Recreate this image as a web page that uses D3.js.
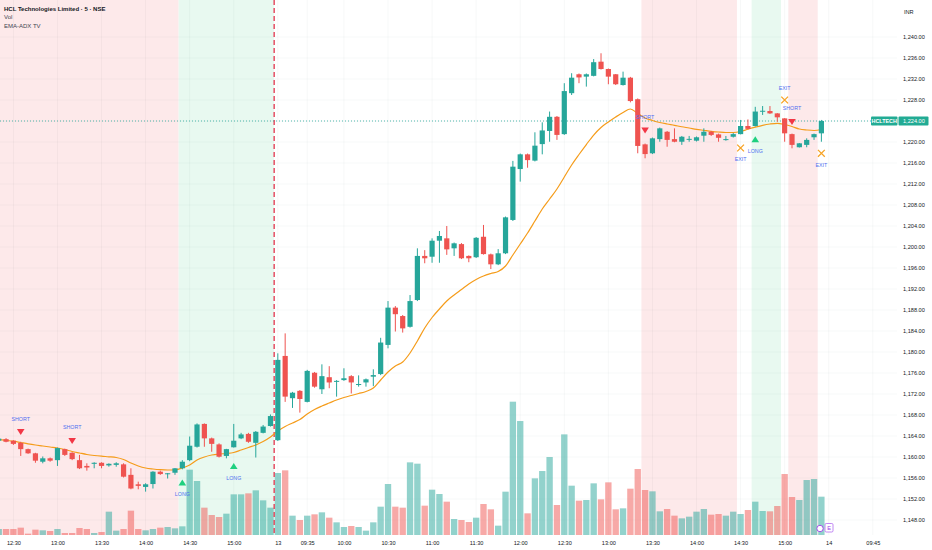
<!DOCTYPE html>
<html>
<head>
<meta charset="utf-8">
<script src="https://cdn.jsdelivr.net/npm/d3@7/dist/d3.min.js"></script>
<style>
	body { margin: 0; background: #fff; }
	svg { display: block; font-family: "Liberation Sans", Arial, sans-serif; }
	.axis path, .axis line { display: none; }
	.axis text { fill: #131722; }
</style>
</head>
<body>
<svg id="chart" width="932" height="550"></svg>
<script>
// bars 0-37 = day 12 (12:20 - 15:25), bars 38-112 = day 13 (09:15 - 15:25), 5 min each
const opens = [
	1163.1, 1163.4, 1163.1, 1162.7, 1161.5, 1160.7, 1159.1, 1159.75, 1159.4, 1161.5,
	1160.8, 1159.4, 1158.3, 1158.7, 1158.9, 1158.4, 1158.5, 1158.6, 1156.6, 1154.8,
	1154.3, 1154.85, 1157.2, 1156.75, 1157.0, 1157.85, 1159.4, 1161.95, 1166.3, 1163.55,
	1162.4, 1160.2, 1161.85, 1163.55, 1164.4, 1162.7, 1164.6, 1165.9,
	1163.2, 1179.25, 1171.2, 1172.6, 1170.5, 1176.05, 1172.9, 1175.2, 1174.4, 1174.65,
	1175.4, 1173.8, 1174.2, 1175.3, 1175.8, 1181.35, 1188.45, 1186.85, 1184.8, 1189.9,
	1198.3, 1198.15, 1201.2, 1201.65, 1199.75, 1200.55, 1198.3, 1198.05, 1201.95, 1198.6,
	1196.7, 1198.8, 1205.15, 1214.85, 1217.65, 1216.45, 1219.6, 1222.1, 1224.8, 1221.5,
	1229.3, 1232.9, 1232.45, 1232.6, 1235.3, 1233.9, 1232.9, 1230.85, 1232.25, 1228.15,
	1219.55, 1217.85, 1220.55, 1221.95, 1220.55, 1220.05, 1220.5, 1220.25, 1221.2, 1221.95,
	1221.45, 1220.45, 1221.0, 1221.5, 1223.05, 1223.05, 1225.85, 1225.9, 1225.45, 1224.5,
	1221.5, 1219.0, 1219.45, 1220.9, 1221.65
];
const highs = [
	1163.8, 1163.6, 1163.2, 1162.9, 1161.6, 1160.8, 1160.1, 1159.9, 1161.8, 1161.6,
	1160.9, 1160.4, 1158.8, 1159.0, 1159.0, 1158.8, 1159.0, 1158.8, 1157.85, 1155.3,
	1155.0, 1157.3, 1157.4, 1156.95, 1157.9, 1159.4, 1163.9, 1166.4, 1166.4, 1163.7,
	1162.6, 1161.55, 1166.3, 1164.6, 1164.6, 1164.95, 1166.1, 1168.1,
	1179.75, 1183.55, 1172.4, 1172.75, 1176.6, 1176.2, 1177.65, 1177.3, 1174.65, 1176.9,
	1175.6, 1175.55, 1174.95, 1176.7, 1182.7, 1189.7, 1188.75, 1187.05, 1190.85, 1199.75,
	1199.4, 1201.65, 1203.05, 1204.0, 1200.85, 1200.75, 1198.4, 1201.9, 1204.2, 1198.75,
	1199.6, 1205.8, 1216.4, 1217.8, 1217.8, 1221.85, 1223.75, 1225.8, 1224.95, 1231.2,
	1233.1, 1233.05, 1233.05, 1235.8, 1236.9, 1234.0, 1232.95, 1233.4, 1232.4, 1228.3,
	1219.7, 1220.85, 1222.75, 1222.1, 1222.6, 1221.15, 1221.15, 1221.05, 1222.6, 1222.1,
	1221.6, 1221.15, 1221.7, 1224.2, 1224.3, 1226.7, 1226.85, 1226.85, 1225.5, 1224.55,
	1221.6, 1219.8, 1220.7, 1221.6, 1224.2
];
const lows = [
	1162.9, 1162.8, 1162.3, 1160.2, 1160.6, 1158.9, 1158.8, 1159.1, 1158.3, 1160.2,
	1159.4, 1157.7, 1157.4, 1157.85, 1157.85, 1158.15, 1158.15, 1156.1, 1153.85, 1153.85,
	1153.4, 1154.0, 1156.6, 1155.9, 1156.6, 1157.65, 1159.2, 1161.8, 1161.95, 1161.0,
	1159.9, 1159.75, 1161.8, 1163.4, 1162.7, 1159.9, 1164.5, 1165.8,
	1163.05, 1170.5, 1169.35, 1168.45, 1170.4, 1173.2, 1172.0, 1173.1, 1171.5, 1174.5,
	1172.1, 1173.4, 1173.4, 1173.5, 1175.6, 1180.7, 1183.9, 1183.7, 1184.65, 1189.7,
	1196.9, 1197.0, 1197.0, 1198.5, 1198.3, 1197.7, 1197.1, 1197.9, 1198.55, 1195.8,
	1196.55, 1198.65, 1204.95, 1212.45, 1215.1, 1216.3, 1217.65, 1220.05, 1220.4, 1221.35,
	1228.95, 1231.2, 1230.55, 1232.5, 1233.8, 1231.0, 1230.85, 1230.75, 1227.55, 1217.85,
	1216.9, 1217.7, 1220.05, 1219.1, 1219.95, 1219.45, 1220.05, 1220.1, 1220.05, 1221.15,
	1220.05, 1220.25, 1220.85, 1221.45, 1222.4, 1222.95, 1225.15, 1225.35, 1223.85, 1220.05,
	1218.8, 1218.95, 1219.0, 1220.4, 1220.05
];
const closes = [
	1163.5, 1162.9, 1162.5, 1161.5, 1160.7, 1159.3, 1159.75, 1159.3, 1161.7, 1160.4,
	1159.6, 1157.85, 1158.0, 1158.9, 1158.3, 1158.7, 1158.8, 1156.25, 1154.0, 1154.5,
	1154.8, 1157.2, 1156.75, 1156.9, 1157.85, 1159.1, 1162.15, 1166.2, 1163.55, 1162.5,
	1160.05, 1161.5, 1163.1, 1164.3, 1162.9, 1164.8, 1165.8, 1167.8,
	1178.5, 1171.5, 1172.25, 1171.05, 1176.4, 1173.4, 1175.4, 1174.2, 1174.5, 1175.0,
	1174.2, 1173.9, 1174.8, 1175.6, 1181.8, 1188.45, 1187.2, 1184.5, 1189.7, 1198.3,
	1197.85, 1201.2, 1202.1, 1199.55, 1200.7, 1197.85, 1197.85, 1201.75, 1198.65, 1196.7,
	1198.8, 1205.65, 1215.3, 1217.65, 1216.55, 1219.3, 1222.2, 1224.8, 1221.35, 1229.7,
	1232.25, 1232.3, 1232.9, 1235.2, 1233.9, 1232.45, 1231.0, 1232.25, 1227.8, 1219.25,
	1217.7, 1220.7, 1222.6, 1220.4, 1220.05, 1221.0, 1220.6, 1220.9, 1221.95, 1221.35,
	1220.8, 1220.55, 1221.5, 1223.05, 1222.5, 1225.8, 1225.95, 1225.45, 1224.7, 1221.65,
	1219.45, 1219.75, 1220.4, 1221.5, 1224.0
];
// volume, thousands of shares
const volumes = [
	9, 9, 9, 11, 2, 8, 7, 6, 9, 3,
	3, 10.5, 9, 3, 4.5, 35, 6.5, 9, 36.5, 9,
	7, 9, 11, 12, 10, 13, 98, 81, 41, 30,
	27, 32, 61, 61, 62.5, 67, 52, 41,
	93, 97, 29, 22.5, 29, 31, 34, 26, 19, 12,
	13.5, 12, 6.5, 19, 42.5, 76.5, 42.5, 41, 109, 107,
	44, 68, 61.5, 50, 24, 22.5, 19.5, 26, 46.5, 38.5,
	14, 65, 200, 171, 32.5, 85, 96, 117, 45, 151,
	74, 51.5, 52.5, 77.5, 53.5, 79, 38.5, 40, 69.5, 99,
	67.5, 65.5, 35.5, 39, 29, 25, 27.5, 35, 39, 30.5,
	31.5, 29, 35, 31.5, 37.5, 50, 36, 35.5, 43.5, 91.5,
	57, 52.5, 82.5, 84, 57.5
];
// EMA
const emaValues = [
	1163.33, 1163.18, 1163.01, 1162.76, 1162.51, 1162.29, 1162.10, 1161.90, 1161.71, 1161.43,
	1161.05, 1160.76, 1160.48, 1160.29, 1160.15, 1160.04, 1159.90, 1159.52, 1158.86, 1158.29,
	1157.90, 1157.71, 1157.58, 1157.52, 1157.56, 1157.90, 1158.48, 1159.43, 1160.00, 1160.38,
	1160.57, 1160.67, 1160.86, 1161.33, 1161.81, 1162.29, 1162.95, 1163.81,
	1164.95, 1165.81, 1166.48, 1167.14, 1168.19, 1169.05, 1169.71, 1170.29, 1170.86, 1171.33,
	1171.71, 1172.10, 1172.48, 1173.14, 1174.67, 1176.19, 1177.33, 1178.10, 1179.81, 1182.10,
	1184.57, 1186.57, 1188.19, 1189.71, 1190.86, 1191.90, 1192.95, 1193.81, 1194.48, 1194.95,
	1195.33, 1196.38, 1198.48, 1200.57, 1202.67, 1204.95, 1207.24, 1209.14, 1211.05, 1213.33,
	1215.62, 1217.62, 1219.52, 1221.33, 1222.76, 1223.81, 1224.76, 1225.62, 1226.29, 1225.43,
	1224.57, 1224.10, 1223.71, 1223.43, 1223.18, 1222.90, 1222.67, 1222.42, 1222.23, 1222.04,
	1221.90, 1221.81, 1221.81, 1222.00, 1222.42, 1222.82, 1223.18, 1223.43, 1223.56, 1223.33,
	1222.95, 1222.48, 1222.29, 1222.19, 1222.38
];
// background state: [first bar, last bar, side]
const zones = [[0, 24, 'short'], [25, 37, 'long'], [88, 100, 'short'], [103, 106, 'long'], [108, 111, 'short']];
// signals: [bar, price of marker]
const shortSignals = [[3, 1164.76], [10, 1163.05], [88, 1222.19], [108, 1223.81]];
const longSignals = [[25, 1155.14], [32, 1158.29], [103, 1220.51]];
const exitSignals = [[101, 1218.86, 'below'], [107, 1228.0, 'above'], [112, 1217.85, 'below']];
const timeTicks = [
	[2, '12:30'], [8, '13:00'], [14, '13:30'], [20, '14:00'], [26, '14:30'], [32, '15:00'], [38, '13'],
	[42, '09:35'], [47, '10:00'], [53, '10:30'], [59, '11:00'], [65, '11:30'], [71, '12:00'], [77, '12:30'],
	[83, '13:00'], [89, '13:30'], [95, '14:00'], [101, '14:30'], [107, '15:00'], [113, '14'], [119, '09:45']
];
const priceTicks = d3.range(1148, 1241, 4);
const dayBreak = 38;
const lastPrice = 1224.00;

const w = 932;
const h = 550;
const plotRight = 897;
const plotBottom = 535;

const svg = d3.select('#chart');

const xScale = d3.scaleLinear().domain([0, 119]).range([-1.3, 872.8]);
const yScale = d3.scaleLinear().domain([1148, 1240]).range([520, 37]);
const volScale = d3.scaleLinear().domain([0, 200]).range([plotBottom, 401.7]);
const step = xScale(1) - xScale(0);

const upColor = '#26a69a';
const downColor = '#ef5350';

svg.append('defs')
	.append('clipPath')
	.attr('id', 'plot-clip')
	.append('rect')
	.attr('x', 0)
	.attr('y', 0)
	.attr('width', plotRight)
	.attr('height', plotBottom);

const plot = svg.append('g').attr('clip-path', 'url(#plot-clip)');

// zone shading
plot.selectAll('rect.zone')
	.data(zones)
	.enter()
	.append('rect')
	.attr('class', 'zone')
	.attr('x', d => xScale(d[0]) - step / 2)
	.attr('y', 0)
	.attr('width', d => xScale(d[1]) - xScale(d[0]) + step)
	.attr('height', plotBottom)
	.attr('fill', d => d[2] == 'short' ? '#fde9ea' : '#e8f9f0');

// grid
plot.selectAll('line.hgrid')
	.data(priceTicks)
	.enter()
	.append('line')
	.attr('x1', 0)
	.attr('x2', plotRight)
	.attr('y1', d => yScale(d))
	.attr('y2', d => yScale(d))
	.attr('stroke', '#2a2e39')
	.attr('stroke-opacity', 0.035);

plot.selectAll('line.vgrid')
	.data(timeTicks)
	.enter()
	.append('line')
	.attr('x1', d => xScale(d[0]))
	.attr('x2', d => xScale(d[0]))
	.attr('y1', 0)
	.attr('y2', plotBottom)
	.attr('stroke', '#2a2e39')
	.attr('stroke-opacity', 0.035);

// volume
plot.selectAll('rect.vol')
	.data(volumes)
	.enter()
	.append('rect')
	.attr('x', (d, i) => xScale(i) - (step - 1) / 2)
	.attr('y', d => volScale(d))
	.attr('width', step - 1)
	.attr('height', d => plotBottom - volScale(d))
	.attr('fill', (d, i) => closes[i] >= opens[i] ? upColor : downColor)
	.attr('fill-opacity', 0.5);

// session break
const breakX = (xScale(dayBreak - 1) + xScale(dayBreak)) / 2;
plot.append('line')
	.attr('x1', breakX)
	.attr('x2', breakX)
	.attr('y1', 0)
	.attr('y2', plotBottom)
	.attr('stroke', '#e2344c')
	.attr('stroke-width', 1.3)
	.attr('stroke-dasharray', '5,3');

// last price line
plot.append('line')
	.attr('x1', 0)
	.attr('x2', 871)
	.attr('y1', yScale(lastPrice))
	.attr('y2', yScale(lastPrice))
	.attr('stroke', upColor)
	.attr('stroke-width', 0.8)
	.attr('stroke-dasharray', '1,2');

// ema
plot.append('path')
	.datum(emaValues)
	.attr('fill', 'none')
	.attr('stroke', '#f59c1a')
	.attr('stroke-width', 1.2)
	.attr('d', d3.line()
		.x((d, i) => xScale(i))
		.y(d => yScale(d))
		.curve(d3.curveMonotoneX)
	);

// candles
const candles = plot.selectAll('g.candle')
	.data(d3.range(opens.length))
	.enter()
	.append('g')
	.attr('class', 'candle');

candles.append('line')
	.attr('x1', i => xScale(i))
	.attr('x2', i => xScale(i))
	.attr('y1', i => yScale(highs[i]))
	.attr('y2', i => yScale(lows[i]))
	.attr('stroke', i => closes[i] >= opens[i] ? upColor : downColor)
	.attr('stroke-width', 1);

candles.append('rect')
	.attr('x', i => xScale(i) - 2.6)
	.attr('y', i => yScale(Math.max(opens[i], closes[i])))
	.attr('width', 5.2)
	.attr('height', i => Math.max(1, Math.abs(yScale(opens[i]) - yScale(closes[i]))))
	.attr('fill', i => closes[i] >= opens[i] ? upColor : downColor);

// signals
const labelColor = '#4f6ff0';

plot.selectAll('path.short')
	.data(shortSignals)
	.enter()
	.append('path')
	.attr('d', d => {
		const cx = xScale(d[0]), cy = yScale(d[1]);
		return `M${cx - 3.8},${cy - 3} L${cx + 3.8},${cy - 3} L${cx},${cy + 3} Z`;
	})
	.attr('fill', '#f23645');

plot.selectAll('text.short')
	.data(shortSignals)
	.enter()
	.append('text')
	.attr('x', d => xScale(d[0]))
	.attr('y', d => yScale(d[1]) - 11.5)
	.attr('text-anchor', 'middle')
	.attr('font-size', 5.3)
	.attr('fill', labelColor)
	.text('SHORT');

plot.selectAll('path.long')
	.data(longSignals)
	.enter()
	.append('path')
	.attr('d', d => {
		const cx = xScale(d[0]), cy = yScale(d[1]);
		return `M${cx - 3.8},${cy + 3} L${cx + 3.8},${cy + 3} L${cx},${cy - 3} Z`;
	})
	.attr('fill', '#1fd07f');

plot.selectAll('text.long')
	.data(longSignals)
	.enter()
	.append('text')
	.attr('x', d => xScale(d[0]))
	.attr('y', d => yScale(d[1]) + 13.6)
	.attr('text-anchor', 'middle')
	.attr('font-size', 5.3)
	.attr('fill', labelColor)
	.text('LONG');

plot.selectAll('path.exit')
	.data(exitSignals)
	.enter()
	.append('path')
	.attr('d', d => {
		const cx = xScale(d[0]), cy = yScale(d[1]);
		return `M${cx - 3.4},${cy - 3.4} L${cx + 3.4},${cy + 3.4} M${cx + 3.4},${cy - 3.4} L${cx - 3.4},${cy + 3.4}`;
	})
	.attr('stroke', '#f7a325')
	.attr('stroke-width', 1.3)
	.attr('fill', 'none');

plot.selectAll('text.exit')
	.data(exitSignals)
	.enter()
	.append('text')
	.attr('x', d => xScale(d[0]))
	.attr('y', d => yScale(d[1]) + (d[2] == 'below' ? 13.4 : -9.8))
	.attr('text-anchor', 'middle')
	.attr('font-size', 5.3)
	.attr('fill', labelColor)
	.text('EXIT');

// price axis
svg.append('g')
	.attr('class', 'axis')
	.attr('transform', 'translate(901, 0)')
	.call(d3.axisRight(yScale)
		.tickValues(priceTicks)
		.tickSize(0)
		.tickPadding(2)
		.tickFormat(d3.format(',.2f')))
	.selectAll('text')
	.attr('font-size', 5.6);

svg.append('text')
	.attr('x', 904)
	.attr('y', 14)
	.attr('font-size', 5.6)
	.attr('fill', '#131722')
	.text('INR');

// time axis
svg.append('g')
	.attr('class', 'axis')
	.attr('transform', `translate(0, ${plotBottom})`)
	.call(d3.axisBottom(xScale)
		.tickValues(timeTicks.map(d => d[0]))
		.tickSize(0)
		.tickPadding(6)
		.tickFormat(v => timeTicks.find(d => d[0] == v)[1]))
	.selectAll('text')
	.attr('font-size', 5.6);

// last price labels
const lastY = yScale(lastPrice);
svg.append('rect')
	.attr('x', 871)
	.attr('y', lastY - 4.6)
	.attr('width', 26.5)
	.attr('height', 9.2)
	.attr('rx', 1)
	.attr('fill', '#22ab94');

svg.append('text')
	.attr('x', 884.2)
	.attr('y', lastY + 2)
	.attr('text-anchor', 'middle')
	.attr('font-size', 5.4)
	.attr('font-weight', 'bold')
	.attr('fill', '#fff')
	.text('HCLTECH');

svg.append('rect')
	.attr('x', 898.5)
	.attr('y', lastY - 4.6)
	.attr('width', 30)
	.attr('height', 9.2)
	.attr('rx', 1)
	.attr('fill', '#22ab94');

svg.append('text')
	.attr('x', 903)
	.attr('y', lastY + 2)
	.attr('font-size', 5.6)
	.attr('fill', '#fff')
	.text(d3.format(',.2f')(lastPrice));

// legend
svg.append('text')
	.attr('x', 4)
	.attr('y', 10.5)
	.attr('font-size', 6)
	.attr('font-weight', 'bold')
	.attr('fill', '#131722')
	.text('HCL Technologies Limited · 5 · NSE');

svg.append('text')
	.attr('x', 4)
	.attr('y', 19.2)
	.attr('font-size', 6)
	.attr('fill', '#434651')
	.text('Vol');

svg.append('text')
	.attr('x', 4)
	.attr('y', 27.8)
	.attr('font-size', 6)
	.attr('fill', '#434651')
	.text('EMA-ADX TV');

// small earnings badge
svg.append('circle')
	.attr('cx', 820)
	.attr('cy', 528.5)
	.attr('r', 3.2)
	.attr('fill', '#fff')
	.attr('stroke', '#9c3ee8')
	.attr('stroke-width', 0.9);

svg.append('rect')
	.attr('x', 825)
	.attr('y', 523.5)
	.attr('width', 8)
	.attr('height', 8.5)
	.attr('rx', 1.2)
	.attr('fill', '#fff')
	.attr('stroke', '#b36bf0')
	.attr('stroke-width', 0.8);

svg.append('text')
	.attr('x', 829)
	.attr('y', 530)
	.attr('text-anchor', 'middle')
	.attr('font-size', 5.6)
	.attr('fill', '#9c3ee8')
	.text('E');
</script>
</body>
</html>
